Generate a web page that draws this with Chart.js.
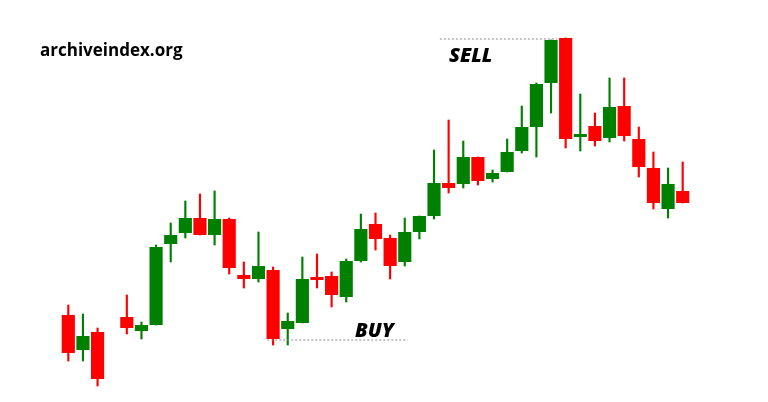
<!DOCTYPE html>
<html>
<head>
<meta charset="utf-8">
<title>Candlestick</title>
<script src="https://cdn.jsdelivr.net/npm/chart.js@4"></script>
<style>
    html, body { margin: 0; padding: 0; background: #ffffff; }
    #wrap { width: 768px; height: 402px; position: relative; }
</style>
</head>
<body>
<div id="wrap"><canvas id="candleChart" width="768" height="402"></canvas></div>
<script>
'use strict';

// ローソク足の位置（空き枠 3 を含む）
const slots = Array.from({ length: 43 }, (_, i) => String(i + 1));

// 始値・終値・高値・安値
const openData  = [85, 50, 68, null, 83, 69, 75, 156, 167, 182, 165, 181, 125, 121, 130, 71, 77, 123, 124, 103, 139, 176, 162, 138, 168, 184, 217, 216, 243, 221, 228, 249, 273, 317, 362, 263, 274, 262, 294, 261, 232, 191, 209];
const closeData = [47, 64, 21, null, 72, 75, 153, 165, 182, 165, 181, 132, 121, 134, 61, 79, 121, 120, 105, 139, 171, 161, 134, 168, 184, 217, 212, 243, 219, 227, 248, 273, 316, 360, 261, 266, 259, 293, 264, 233, 197, 216, 197];
const highData  = [95, 86, 72, null, 105, 78, 155, 177, 199, 206, 209, 182, 138, 168, 133, 87, 143, 146, 128, 141, 186, 187, 165, 182, 184, 250, 280, 259, 243, 230, 261, 294, 317, 360, 362, 306, 287, 322, 322, 273, 248, 232, 238];
const lowData   = [39, 39, 14, null, 66, 61, 75, 138, 162, 165, 155, 126, 112, 118, 55, 55, 77, 112, 93, 98, 138, 150, 121, 134, 161, 181, 207, 212, 215, 218, 228, 247, 243, 287, 252, 249, 254, 258, 259, 223, 191, 182, 197];

// 注記（SELL / BUY の点線）
const sellLineX = [25.4, 33.4];
const sellLineY = [361, 361];
const buyLineX  = [13.6, 23.2];
const buyLineY  = [60, 60];

const UP_COLOR = '#008000';
const DOWN_COLOR = '#ff0000';

function candleColor(i) {
    return closeData[i] >= openData[i] ? UP_COLOR : DOWN_COLOR;
}

const bodies = openData.map((o, i) => (o === null ? null : [o, closeData[i]]));
const wicks = highData.map((h, i) => (h === null ? null : [lowData[i], h]));
const colors = openData.map((o, i) => (o === null ? 'transparent' : candleColor(i)));

// テキスト描画
const labelPlugin = {
    id: 'labels',
    afterDatasetsDraw(chart) {
        const ctx = chart.ctx;
        ctx.save();
        ctx.fillStyle = '#000000';
        ctx.textBaseline = 'alphabetic';
        ctx.font = 'bold 17px "Open Sans", sans-serif';
        ctx.fillText('archiveindex.org', 40, 56);
        ctx.font = 'italic 800 20px "Open Sans", sans-serif';
        ctx.fillText('SELL', 449, 62);
        ctx.fillText('BUY', 355, 337);
        ctx.restore();
    }
};

const ctx = document.getElementById('candleChart').getContext('2d');
new Chart(ctx, {
    data: {
        labels: slots,
        datasets: [
            {
                type: 'bar',
                data: bodies,
                backgroundColor: colors,
                borderWidth: 0,
                grouped: false,
                categoryPercentage: 1,
                barPercentage: 0.9,
                order: 1
            },
            {
                type: 'bar',
                data: wicks,
                backgroundColor: colors,
                borderWidth: 0,
                grouped: false,
                barThickness: 1.5,
                order: 2
            },
            {
                type: 'line',
                xAxisID: 'x2',
                data: sellLineX.map((x, i) => ({ x: x, y: sellLineY[i] })),
                borderColor: '#8a8a8a',
                borderWidth: 1,
                borderDash: [2, 2],
                pointRadius: 0,
                order: 0
            },
            {
                type: 'line',
                xAxisID: 'x2',
                data: buyLineX.map((x, i) => ({ x: x, y: buyLineY[i] })),
                borderColor: '#8a8a8a',
                borderWidth: 1,
                borderDash: [2, 2],
                pointRadius: 0,
                order: 0
            }
        ]
    },
    options: {
        responsive: false,
        animation: false,
        layout: {
            padding: { left: 61, right: 78, top: 20, bottom: 12 }
        },
        scales: {
            x: { display: false, offset: true },
            x2: { type: 'linear', display: false, min: -0.5, max: 42.5 },
            y: { display: false, min: 10, max: 380 }
        },
        plugins: {
            legend: { display: false },
            tooltip: { enabled: false }
        }
    },
    plugins: [labelPlugin]
});
</script>
</body>
</html>
